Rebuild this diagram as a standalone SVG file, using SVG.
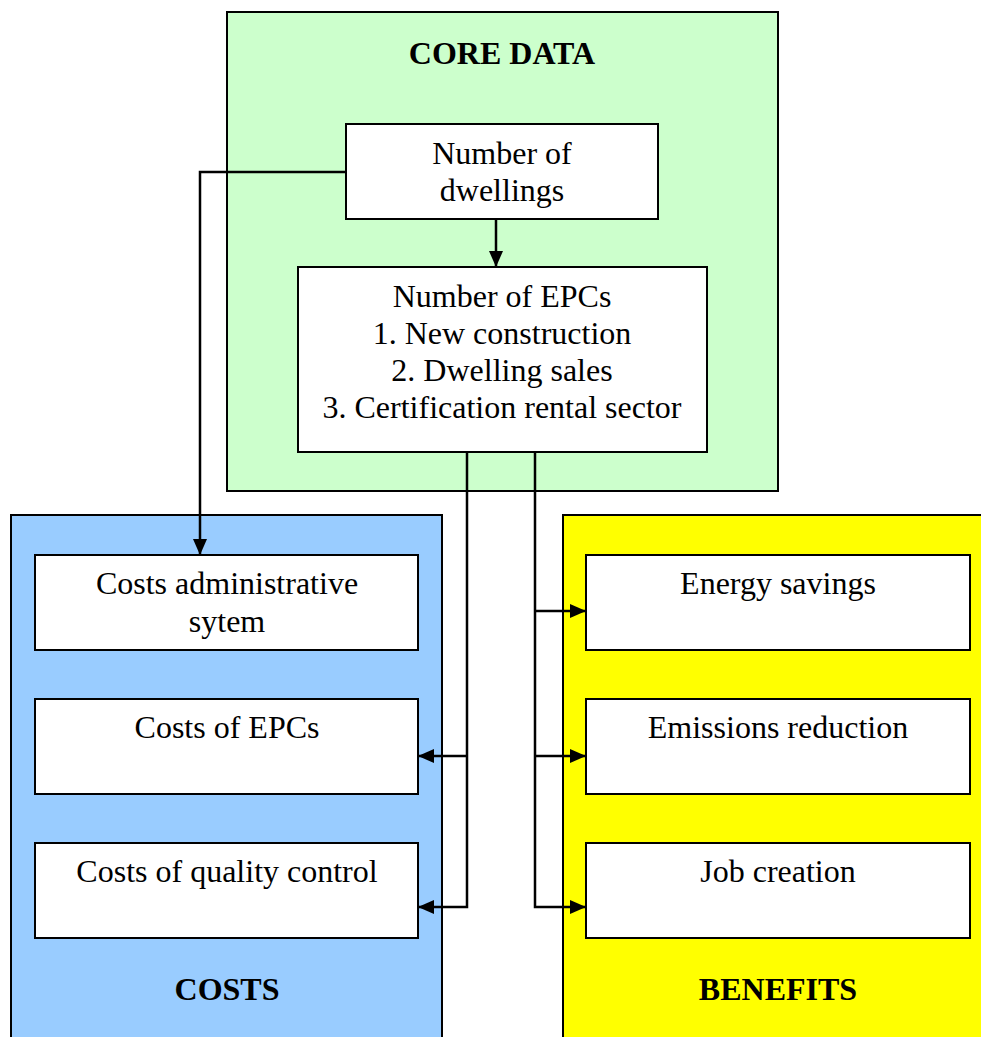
<svg xmlns="http://www.w3.org/2000/svg" width="981" height="1037" viewBox="0 0 981 1037">
<style>
.t{font-family:"Liberation Serif","Times New Roman",serif;font-size:32px;fill:#000;text-anchor:middle}
.b{font-weight:bold}
.box{fill:#fff;stroke:#000;stroke-width:2}
.grp{stroke:#000;stroke-width:2}
.ln{fill:none;stroke:#000;stroke-width:2.5}
</style>
<defs>
<marker id="a" viewBox="0 0 16 14" refX="16" refY="7" markerWidth="16" markerHeight="14" markerUnits="userSpaceOnUse" orient="auto">
<path d="M0,0 L16,7 L0,14 z" fill="#000"/>
</marker>
</defs>
<rect width="981" height="1037" fill="#fff"/>
<g id="core">
<rect x="227" y="12" width="551" height="479" fill="#CCFFCC" class="grp"/>
<text x="502" y="64" class="t b">CORE DATA</text>
</g>
<g id="costs">
<rect x="11" y="515" width="431" height="530" fill="#99CCFF" class="grp"/>
<text x="227" y="1000" class="t b">COSTS</text>
</g>
<g id="benefits">
<rect x="563" y="515" width="430" height="530" fill="#FFFF00" class="grp"/>
<text x="778" y="1000" class="t b">BENEFITS</text>
</g>
<g id="dwellings">
<rect x="346" y="124" width="312" height="95" class="box"/>
<text x="502" y="164" class="t">Number of</text>
<text x="502" y="201" class="t">dwellings</text>
</g>
<g id="epcs">
<rect x="298" y="267" width="409" height="185" class="box"/>
<text x="502" y="307" class="t">Number of EPCs</text>
<text x="502" y="344" class="t">1. New construction</text>
<text x="502" y="381" class="t">2. Dwelling sales</text>
<text x="502" y="418" class="t">3. Certification rental sector</text>
</g>
<g id="admin">
<rect x="35" y="555" width="383" height="95" class="box"/>
<text x="227" y="594" class="t">Costs administrative</text>
<text x="227" y="632" class="t">sytem</text>
</g>
<g id="costepc">
<rect x="35" y="699" width="383" height="95" class="box"/>
<text x="227" y="738" class="t">Costs of EPCs</text>
</g>
<g id="quality">
<rect x="35" y="843" width="383" height="95" class="box"/>
<text x="227" y="882" class="t">Costs of quality control</text>
</g>
<g id="energy">
<rect x="586" y="555" width="384" height="95" class="box"/>
<text x="778" y="594" class="t">Energy savings</text>
</g>
<g id="emissions">
<rect x="586" y="699" width="384" height="95" class="box"/>
<text x="778" y="738" class="t">Emissions reduction</text>
</g>
<g id="jobs">
<rect x="586" y="843" width="384" height="95" class="box"/>
<text x="778" y="882" class="t">Job creation</text>
</g>
<g id="connectors">
<path d="M496,219 V267" class="ln" marker-end="url(#a)"/>
<path d="M346,172 H200 V555" class="ln" marker-end="url(#a)"/>
<path d="M467,452 V907 H418" class="ln" marker-end="url(#a)"/>
<path d="M467,756 H418" class="ln" marker-end="url(#a)"/>
<path d="M535,452 V907 H586" class="ln" marker-end="url(#a)"/>
<path d="M535,756 H586" class="ln" marker-end="url(#a)"/>
<path d="M535,611 H586" class="ln" marker-end="url(#a)"/>
</g>
</svg>
